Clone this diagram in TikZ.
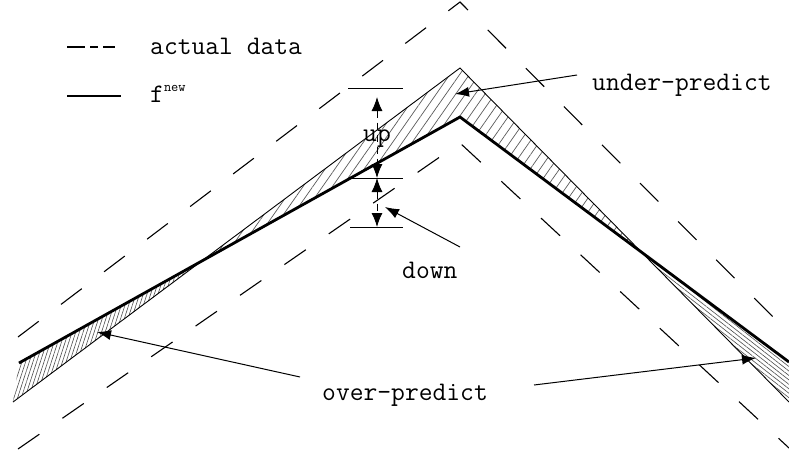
\documentclass[tikz,border=0pt]{standalone}
\usepackage{fontspec}
\usetikzlibrary{arrows.meta,patterns.meta,positioning}

\begin{document}
\begin{tikzpicture}[x=1pt,y=-1pt,
  lbl/.style={font=\ttfamily\fontsize{26.8}{32}\selectfont, inner sep=0pt, anchor=base west},
  fnew/.style={line width=2.8pt, line join=miter},
  actual/.style={line width=0.9pt},
  envelope/.style={line width=1.1pt, dash pattern=on 26pt off 28pt},
  dim/.style={line width=1pt, dash pattern=on 7pt off 5pt, {Latex[length=14pt,width=11pt]}-{Latex[length=14pt,width=11pt]}},
  ptr/.style={line width=1pt, -{Latex[length=14pt,width=10pt]}}]
\useasboundingbox (0,0) rectangle (789,452);

% Points of the curves
\coordinate (fl) at (19,363);
\coordinate (fp) at (460,117);
\coordinate (fr) at (789,362);
\coordinate (al) at (13,402);
\coordinate (ap) at (460,68);
\coordinate (ar) at (789,402);
\coordinate (cl) at (202,261);
\coordinate (cr) at (641,252);

% Hatched regions
\fill[pattern={Lines[angle=55,distance=8pt,line width=0.7pt]}, pattern color=black!65]
  (cl) -- (ap) -- (cr) -- (fp) -- cycle;
\fill[pattern={Lines[angle=72,distance=3.5pt,line width=0.6pt]}, pattern color=black!70]
  (fl) -- (cl) -- (al) -- cycle;
\fill[pattern={Lines[angle=-38,distance=3.5pt,line width=0.6pt]}, pattern color=black!70]
  (cr) -- (fr) -- (ar) -- cycle;

% Curves
\draw[actual] (al) -- (ap) -- (ar);
\draw[fnew] (fl) -- (fp) -- (fr);
\draw[envelope] (18,337) -- (460,2) -- (789,333);
\draw[envelope] (18,449) -- (460,143) -- (789,448);

% Legend
\node[lbl] (lgdata) at (150,55) {actual data};
\node[lbl] (lgfnew) at (150,102) {f\raisebox{10pt}{\fontsize{14}{14}\selectfont new}};
\draw[line width=1.3pt, dash pattern=on 18pt off 5pt on 8pt off 5pt on 12pt off 20pt] (67,47) -- (115,47);
\draw[fnew] (67,96) -- (121,96);

% Up and down marks
\coordinate (h1a) at (348,88);   \coordinate (h1b) at (403,88);
\coordinate (h2a) at (350,178);  \coordinate (h2b) at (403,178);
\coordinate (h3a) at (350,227);  \coordinate (h3b) at (403,227);
\draw[actual] (h1a) -- (h1b);
\draw[actual] (h2a) -- (h2b);
\draw[actual] (h3a) -- (h3b);
\coordinate (uptop) at (377,97);
\coordinate (mid) at (377,178);
\coordinate (low) at (377,227);
\draw[dim] (uptop) -- (mid);
\draw[dim] (mid) -- (low);
\node[lbl, anchor=center] (uplbl) at (377,139) {up};

% Labels and arrows
\node[lbl] (under) at (592,90) {under-predict};
\node[lbl] (down) at (402,278) {down};
\node[lbl] (over) at (322,400) {over-predict};
\coordinate (underS) at (577,75);
\coordinate (underT) at (455,94);
\coordinate (downS) at (460,247);
\coordinate (downT) at (385,207);
\coordinate (overS1) at (300,377);
\coordinate (overT1) at (97,332);
\coordinate (overS2) at (534,385);
\coordinate (overT2) at (756,358);
\draw[ptr] (underS) -- (underT);
\draw[ptr] (downS) -- (downT);
\draw[ptr] (overS1) -- (overT1);
\draw[ptr] (overS2) -- (overT2);
\end{tikzpicture}
\end{document}
